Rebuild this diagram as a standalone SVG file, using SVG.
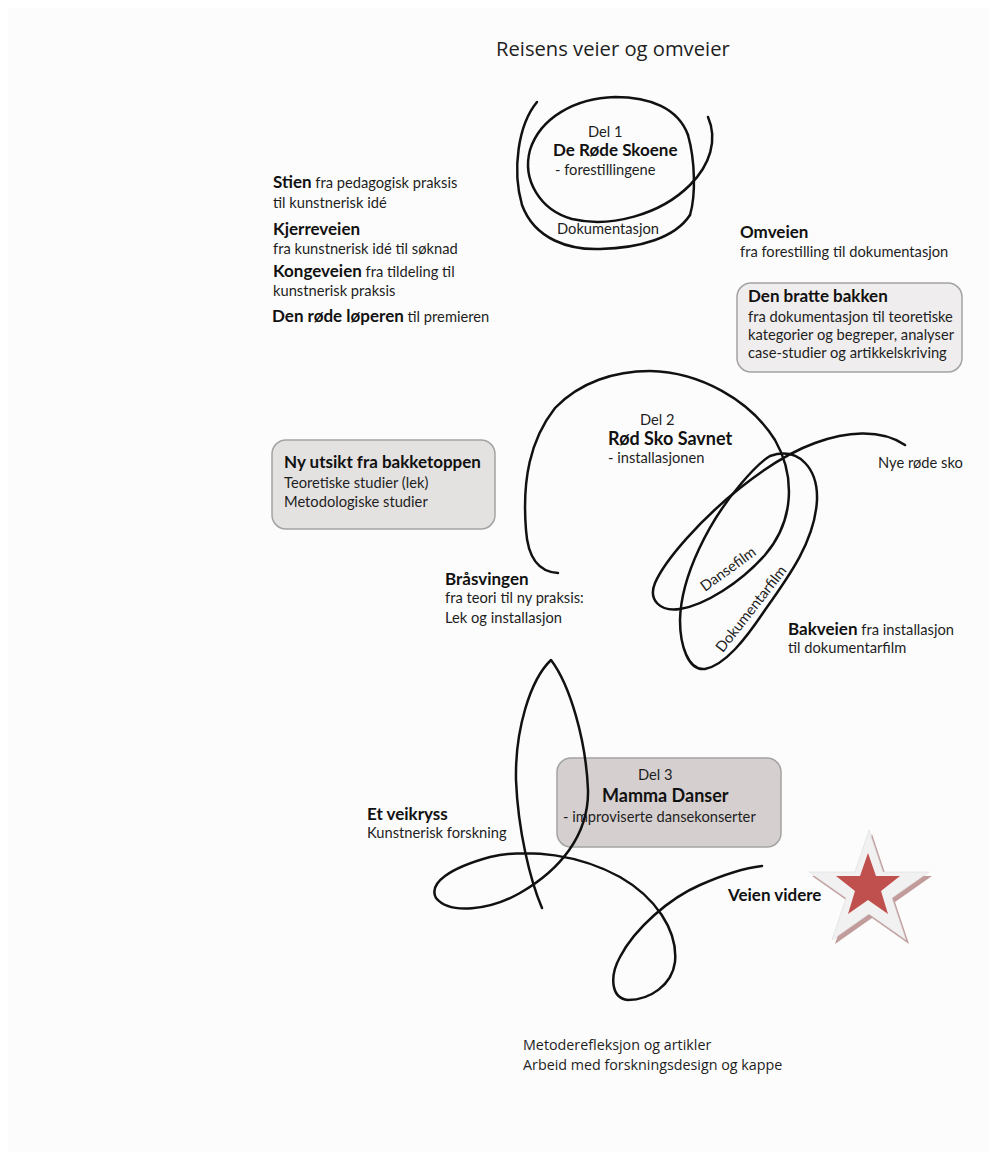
<svg xmlns="http://www.w3.org/2000/svg" width="997" height="1160" viewBox="0 0 997 1160">
<style>
.t{font-family:Lato,"Liberation Sans",sans-serif;font-size:14.7px;fill:#1e1e1e}
.b{font-weight:700;font-size:17px;fill:#111}
.l{font-size:18px}
.m{font-family:"Open Sans","Liberation Sans",sans-serif;fill:#1e1e1e}
.box{stroke:#a3a3a3;stroke-width:1.5}
.c{fill:none;stroke:#111;stroke-width:2.5;stroke-linecap:round;stroke-linejoin:round}
</style>
<rect width="997" height="1160" fill="#ffffff"/>
<rect x="8" y="8" width="981" height="1144" fill="#fcfcfc"/>

<g id="title"><text class="m" x="496" y="56" font-size="20.2">Reisens veier og omveier</text></g>

<g id="del1">
<text class="t" x="588" y="137">Del 1</text>
<text class="t b" x="553" y="156">De Røde Skoene</text>
<text class="t" x="555" y="175">- forestillingene</text>
<text class="t" x="557" y="234" font-size="11.2">Dokumentasjon</text>
</g>

<g id="stien">
<text class="t" x="273" y="188"><tspan class="b">Stien</tspan> fra pedagogisk praksis</text>
<text class="t" x="273" y="208">til kunstnerisk idé</text>
<text class="t b" x="273" y="235">Kjerreveien</text>
<text class="t" x="273" y="254">fra kunstnerisk idé til søknad</text>
<text class="t" x="273" y="277"><tspan class="b">Kongeveien</tspan> fra tildeling til</text>
<text class="t" x="273" y="296">kunstnerisk praksis</text>
<text class="t" x="272" y="322"><tspan class="b">Den røde løperen</tspan> til premieren</text>
</g>

<g id="omveien">
<text class="t b" x="740" y="238">Omveien</text>
<text class="t" x="740" y="257">fra forestilling til dokumentasjon</text>
</g>

<g id="bratte-bakken">
<rect class="box" x="737" y="283" width="225" height="89" rx="14" fill="#efeded"/>
<text class="t b" x="748" y="302">Den bratte bakken</text>
<text class="t" x="748" y="322">fra dokumentasjon til teoretiske</text>
<text class="t" x="748" y="340">kategorier og begreper, analyser</text>
<text class="t" x="748" y="358">case-studier og artikkelskriving</text>
</g>

<g id="del2">
<text class="t" x="640" y="425">Del 2</text>
<text class="t b l" x="608" y="445">Rød Sko Savnet</text>
<text class="t" x="608" y="463">- installasjonen</text>
<text class="t" x="731" y="573" font-size="13.5" text-anchor="middle" transform="rotate(-36 731 573)">Dansefilm</text>
<text class="t" x="755" y="612" font-size="14" text-anchor="middle" transform="rotate(-52 755 612)">Dokumentarfilm</text>
</g>

<g id="ny-utsikt">
<rect class="box" x="272" y="440" width="223" height="89" rx="14" fill="#e4e2e1"/>
<text class="t b" x="284" y="468">Ny utsikt fra bakketoppen</text>
<text class="t" x="284" y="488">Teoretiske studier (lek)</text>
<text class="t" x="284" y="507">Metodologiske studier</text>
</g>

<g id="brasvingen">
<text class="t b" x="445" y="585">Bråsvingen</text>
<text class="t" x="445" y="603">fra teori til ny praksis:</text>
<text class="t" x="445" y="623">Lek og installasjon</text>
</g>

<g id="nye-rode-sko"><text class="t" x="878" y="468">Nye røde sko</text></g>

<g id="bakveien">
<text class="t" x="788" y="635"><tspan class="b">Bakveien</tspan> fra installasjon</text>
<text class="t" x="788" y="653">til dokumentarfilm</text>
</g>

<g id="del3">
<rect class="box" x="557" y="758" width="224" height="89" rx="14" fill="#d5d0cf"/>
<text class="t" x="638" y="780">Del 3</text>
<text class="t b l" x="602" y="802">Mamma Danser</text>
<text class="t" x="563" y="822">- improviserte dansekonserter</text>
</g>

<g id="veikryss">
<text class="t b" x="367" y="820">Et veikryss</text>
<text class="t" x="367" y="838">Kunstnerisk forskning</text>
</g>

<g id="veien-videre">
<text class="t b" x="728" y="901">Veien videre</text>
<polygon points="872,834 886,876 932,876 895,902 909,944 872,918 835,944 849,902 812,876 858,876" fill="#c29b9b"/>
<polygon points="869,830 883,872 929,872 892,898 906,940 869,914 832,940 846,898 809,872 855,872" fill="#f2f1f1" stroke="#dcdcdc" stroke-width="0.6"/>
<polygon points="868,853 876,876 900,876 881,891 888,914 868,900 848,914 855,891 836,876 860,876" fill="#c0504d"/>
</g>

<g id="bottom">
<text class="m" x="523" y="1050" font-size="14.3">Metoderefleksjon og artikler</text>
<text class="m" x="523" y="1070" font-size="14.3">Arbeid med forskningsdesign og kappe</text>
</g>

<g id="connectors">
<path class="c" stroke-width="2.8" d="M537,102 C518,125 512,170 522,205 C535,240 570,250 600,249 C640,248 675,238 690,215"/>
<path class="c" stroke="#888" stroke-width="1.1" d="M690,215 C696,195 695,160 688,135"/>
<path class="c" stroke-width="2.2" d="M688,135 C678,108 650,97 615,97 C575,98 540,118 530,150 C522,180 540,210 572,219 C610,228 660,215 690,185 C710,165 718,140 708,117"/>
<path class="c" d="M558,573 C540,572 528,560 526,530 C522,480 530,440 555,408 C580,382 615,371 650,371 C700,372 750,400 775,440 C795,475 795,520 765,555 C740,583 705,605 680,609 C660,612 648,600 655,583 C665,560 700,520 740,488 C765,468 790,452 815,443 C845,432 880,428 905,445"/>
<path class="c" d="M770,456 C800,446 818,470 817,500 C815,540 790,575 765,610 C745,640 725,665 705,669 C688,671 680,645 680,620 C681,575 710,520 740,485 C750,473 760,462 770,456 Z"/>
<path class="c" d="M542,908 C530,880 518,830 516,780 C515,730 530,680 551,660 C570,685 586,740 588,790 C589,835 560,870 520,893 C490,910 450,915 436,898 C428,883 450,868 490,857 C530,848 580,855 620,877 C655,897 678,930 675,962 C672,985 650,1000 628,1000 C610,998 610,975 620,957 C635,928 670,898 700,885 C725,874 745,868 762,866"/>
</g>
</svg>
